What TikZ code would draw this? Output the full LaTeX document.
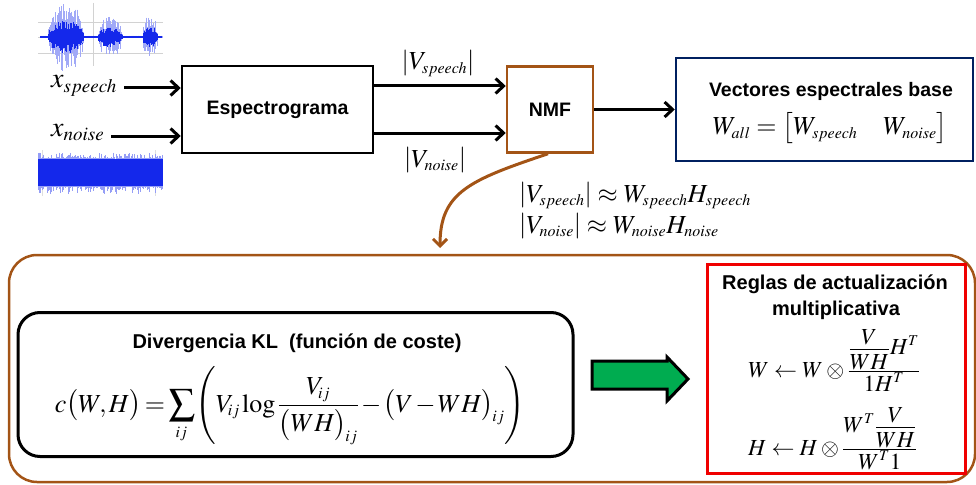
\documentclass[tikz,border=0pt]{standalone}
\usepackage{amsmath}
\usepackage{mathptmx}
\usepackage[no-math]{fontspec}
\setsansfont{Liberation Sans}
\DeclareMathSizes{28}{28}{19}{14}
\DeclareMathSizes{26}{26}{16}{12}
\DeclareMathSizes{23}{23}{15}{11}
\usetikzlibrary{arrows.meta}

\definecolor{nmfbrown}{RGB}{163,84,22}
\definecolor{navybox}{RGB}{0,32,96}
\definecolor{rulered}{RGB}{240,0,0}
\definecolor{blockgreen}{RGB}{0,172,80}
\definecolor{wave}{RGB}{20,40,235}

% compact fraction whose parts keep full size, with small struts for clearance
\newcommand{\cfr}[2]{{\textstyle\frac{\displaystyle #1\rule[-3.5pt]{0pt}{3.5pt}}{\displaystyle\rule{0pt}{19pt}#2}}}

\tikzset{
  box/.style={draw, line width=2.5pt, inner sep=0pt},
  flow/.style={line width=3pt, -{Straight Barb[length=8pt,width=15pt]}},
  lab/.style={font=\fontsize{19.5}{23}\selectfont\sffamily\bfseries, inner sep=0pt},
  labbig/.style={font=\fontsize{20}{24}\selectfont\sffamily\bfseries, inner sep=0pt},
  eqA/.style={font=\fontsize{28}{32}\selectfont, inner sep=0pt},
  eqB/.style={font=\fontsize{26}{30}\selectfont, inner sep=0pt},
  eqD/.style={font=\fontsize{23}{27}\selectfont, inner sep=0pt},
}

\begin{document}
\begin{tikzpicture}[x=1pt,y=-1pt]
\useasboundingbox (0,0) rectangle (976,484);

% speech waveform
\draw[gray!35, line width=0.6pt] (38,22) -- (163,22) (38,37) -- (163,37) (38,53) -- (163,53) (93,3) -- (93,66);
\pgfmathsetseed{11}
\foreach \x in {40,40.7,...,162} {
  \pgfmathsetmacro\env{1.2 + 34*sqrt(max(0,1-((\x-66)/18)^2)) + 20*sqrt(max(0,1-((\x-110)/12)^2)) + 21*sqrt(max(0,1-((\x-150)/7.5)^2))}
  \pgfmathsetmacro\up{\env*(0.35+0.65*rnd)}
  \pgfmathsetmacro\dn{\env*(0.35+0.65*rnd)}
  \pgfmathsetmacro\cup{\env*(0.2+0.25*rnd)}
  \pgfmathsetmacro\cdn{\env*(0.2+0.25*rnd)}
  \draw[wave!40, line width=0.5pt] (\x,37-\up) -- (\x,37+\dn);
  \draw[wave, line width=0.8pt] (\x,37-\cup-0.6) -- (\x,37+\cdn+0.6);
}

% noise waveform
\draw[gray!25, line width=0.6pt] (42,150) -- (42,196) (155,150) -- (155,196);
\foreach \x in {38.5,39.1,...,162.5} {
  \pgfmathsetmacro\up{14+6*rnd^3}
  \pgfmathsetmacro\dn{14+8*rnd^3}
  \draw[wave!45, line width=0.6pt] (\x,172.5-\up) -- (\x,172.5+\dn);
  \draw[wave, line width=0.7pt] (\x,159) -- (\x,186);
}

% input signals
\node[eqA, anchor=base west] (xs) at (51,88) {$x_{speech}$};
\node[eqA, anchor=base west] (xn) at (51,136) {$x_{noise}$};

% processing chain
\node[box, minimum width=191pt, minimum height=87pt] (spec) at (277.5,109.5) {};
\node[lab] (spectxt) at (spec.center) {Espectrograma};
\node[box, draw=nmfbrown, minimum width=86pt, minimum height=86pt] (nmf) at (550,109.5) {};
\node[lab] (nmftxt) at (nmf.center) {NMF};
\node[box, draw=navybox, minimum width=297pt, minimum height=103pt] (vec) at (824.5,109.5) {};
\node[lab, anchor=base] (vectxt) at (831,96) {Vectores espectrales base};
\node[eqB, anchor=base] (wall) at (830,135) {$W_{all}=\bigl[W_{speech}\quad W_{noise}\bigr]$};

\draw[flow] ([xshift=7pt]xs.base east) -- (spec.west |- xs.base east);
\draw[flow] ([xshift=7pt]xn.base east) -- (spec.west |- xn.base east);
\coordinate (upper) at (0,86);
\coordinate (lower) at (0,133);
\draw[flow] (spec.east |- upper) -- (nmf.west |- upper);
\draw[flow] (spec.east |- lower) -- (nmf.west |- lower);
\draw[flow] (nmf.east) -- (vec.west);

\node[eqB, anchor=base] (vsp) at (438,70) {$\left|V_{speech}\right|$};
\node[eqB, anchor=base] (vno) at (435,167) {$\left|V_{noise}\right|$};
\node[eqB, anchor=base west] (fsp) at (519,202) {$\left|V_{speech}\right|\approx W_{speech}H_{speech}$};
\node[eqB, anchor=base west] (fno) at (519,233) {$\left|V_{noise}\right|\approx W_{noise}H_{noise}$};

% detail panel
\node[draw=nmfbrown, line width=2.5pt, rounded corners=28pt, inner sep=0pt,
      minimum width=966pt, minimum height=227pt] (panel) at (492,368.5) {};
\coordinate (drop) at (440,248);
\draw[nmfbrown, line width=3pt, -{Straight Barb[length=7pt,width=14pt]}]
  ([xshift=-2pt]nmf.south) .. controls (470,180) and (440,192) .. (drop);

\node[draw, line width=3pt, rounded corners=22pt, inner sep=0pt,
      minimum width=555pt, minimum height=144pt] (kl) at (295.5,384.5) {};
\node[labbig, anchor=base] (kltxt) at (297,348) {Divergencia KL\ \ (función de coste)};
\node[eqB, anchor=base] (klfor) at (290,412)
  {\thickmuskip=2.5mu\medmuskip=1.5mu\thinmuskip=1.5mu$\displaystyle c\bigl(W,H\bigr)=\sum_{\!ij}\Biggl(V_{\!ij}\log\frac{V_{\!ij}}{\bigl(WH\bigr)_{\!ij}}-\bigl(V-WH\bigr)_{\!ij}\Biggr)$};

\draw[line width=3pt, fill=blockgreen, line join=miter]
  (592,361) -- (667,361) -- (667,357) -- (688,379) -- (667,401) -- (667,389) -- (592,389) -- cycle;

\node[draw=rulered, line width=3pt, inner sep=0pt, minimum width=258pt, minimum height=209pt] (rules) at (836,368.5) {};
\node[labbig, anchor=base] (rtxt1) at (835,289) {Reglas de actualización};
\node[labbig, anchor=base] (rtxt2) at (836,315) {multiplicativa};
\node[eqD, anchor=base west] (wrule) at (748,377) {$W\leftarrow W\otimes\cfr{\cfr{V}{WH}H^{T}}{1H^{T}}$};
\node[eqD, anchor=base west] (hrule) at (748,455) {$H\leftarrow H\otimes\cfr{W^{T}\cfr{V}{WH}}{W^{T}1}$};
\end{tikzpicture}
\end{document}
